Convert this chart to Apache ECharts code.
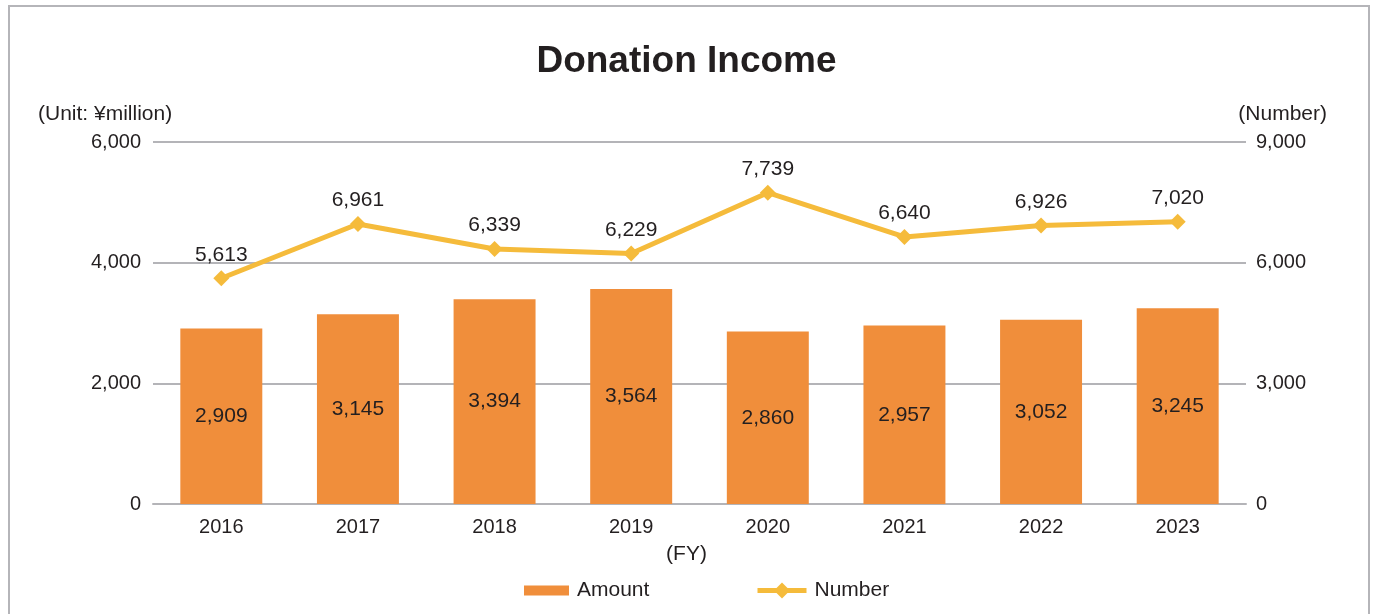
<!DOCTYPE html>
<html>
<head>
<meta charset="utf-8">
<script src="https://cdn.jsdelivr.net/npm/echarts@6/dist/echarts.min.js"></script>
<style>
  html, body { margin: 0; padding: 0; background: #fff; }
  #chart { width: 1373px; height: 614px; }
</style>
</head>
<body>
<div id="chart"></div>
<script>
const years = ["2016", "2017", "2018", "2019", "2020", "2021", "2022", "2023"];
const amount = [2909, 3145, 3394, 3564, 2860, 2957, 3052, 3245];
const number = [5613, 6961, 6339, 6229, 7739, 6640, 6926, 7020];

const font = "Arial, 'Liberation Sans', sans-serif";
const textColor = "#231f20";
const gridColor = "#b4b4b8";
const fmt = (v) => Number(v).toLocaleString("en-US");
const legendText = { fontSize: 21, color: textColor, fontFamily: font, padding: [0, 0, 0, 3] };

const chart = echarts.init(document.getElementById("chart"));
chart.setOption({
  animation: false,
  textStyle: { fontFamily: font, color: textColor },
  graphic: [
    {
      type: "rect",
      shape: { x: 9, y: 6, width: 1360, height: 620 },
      style: { fill: "none", stroke: "#b5b5b9", lineWidth: 2 },
    },
    {
      type: "text",
      left: 38, top: 104,
      style: { text: "(Unit: ¥million)", font: "21px " + font, fill: textColor },
    },
    {
      type: "text",
      right: 46, top: 104,
      style: { text: "(Number)", font: "21px " + font, fill: textColor },
    },
    {
      type: "text",
      left: "center", top: 544,
      style: { text: "(FY)", font: "21px " + font, fill: textColor },
    },
  ],
  title: {
    text: "Donation Income",
    left: "center",
    top: 38,
    textStyle: { fontSize: 37, fontWeight: "bold", color: textColor, fontFamily: font },
  },
  legend: [
    {
      left: 519, top: 575,
      itemWidth: 45, itemHeight: 10,
      textStyle: legendText,
      data: [{ name: "Amount", icon: "rect" }],
    },
    {
      left: 750, top: 575,
      itemWidth: 49, itemHeight: 20,
      textStyle: legendText,
      data: [{ name: "Number", lineStyle: { width: 5 } }],
    },
  ],
  grid: { left: 153, right: 127, top: 142, bottom: 110 },
  xAxis: {
    type: "category",
    data: years,
    axisTick: { show: false },
    axisLine: { lineStyle: { color: gridColor, width: 2 } },
    axisLabel: { fontSize: 20, color: textColor, margin: 13 },
  },
  yAxis: [
    {
      type: "value",
      min: 0, max: 6000, interval: 2000,
      axisLabel: { fontSize: 20, color: textColor, margin: 12, formatter: fmt },
      splitLine: { lineStyle: { color: gridColor, width: 2 } },
    },
    {
      type: "value",
      min: 0, max: 9000, interval: 3000,
      axisLabel: { fontSize: 20, color: textColor, margin: 10, formatter: fmt },
      splitLine: { show: false },
    },
  ],
  series: [
    {
      name: "Amount",
      type: "bar",
      data: amount,
      barWidth: "60%",
      itemStyle: { color: "#f08e3b" },
      label: {
        show: true, position: "inside", fontSize: 21, color: textColor,
        formatter: (p) => fmt(p.value),
      },
    },
    {
      name: "Number",
      type: "line",
      yAxisIndex: 1,
      data: number,
      symbol: "diamond",
      symbolSize: 16,
      lineStyle: { color: "#f5bb3b", width: 5 },
      itemStyle: { color: "#f5bb3b" },
      label: {
        show: true, position: "top", distance: 5, fontSize: 21, color: textColor,
        formatter: (p) => fmt(p.value),
      },
    },
  ],
});
</script>
</body>
</html>
